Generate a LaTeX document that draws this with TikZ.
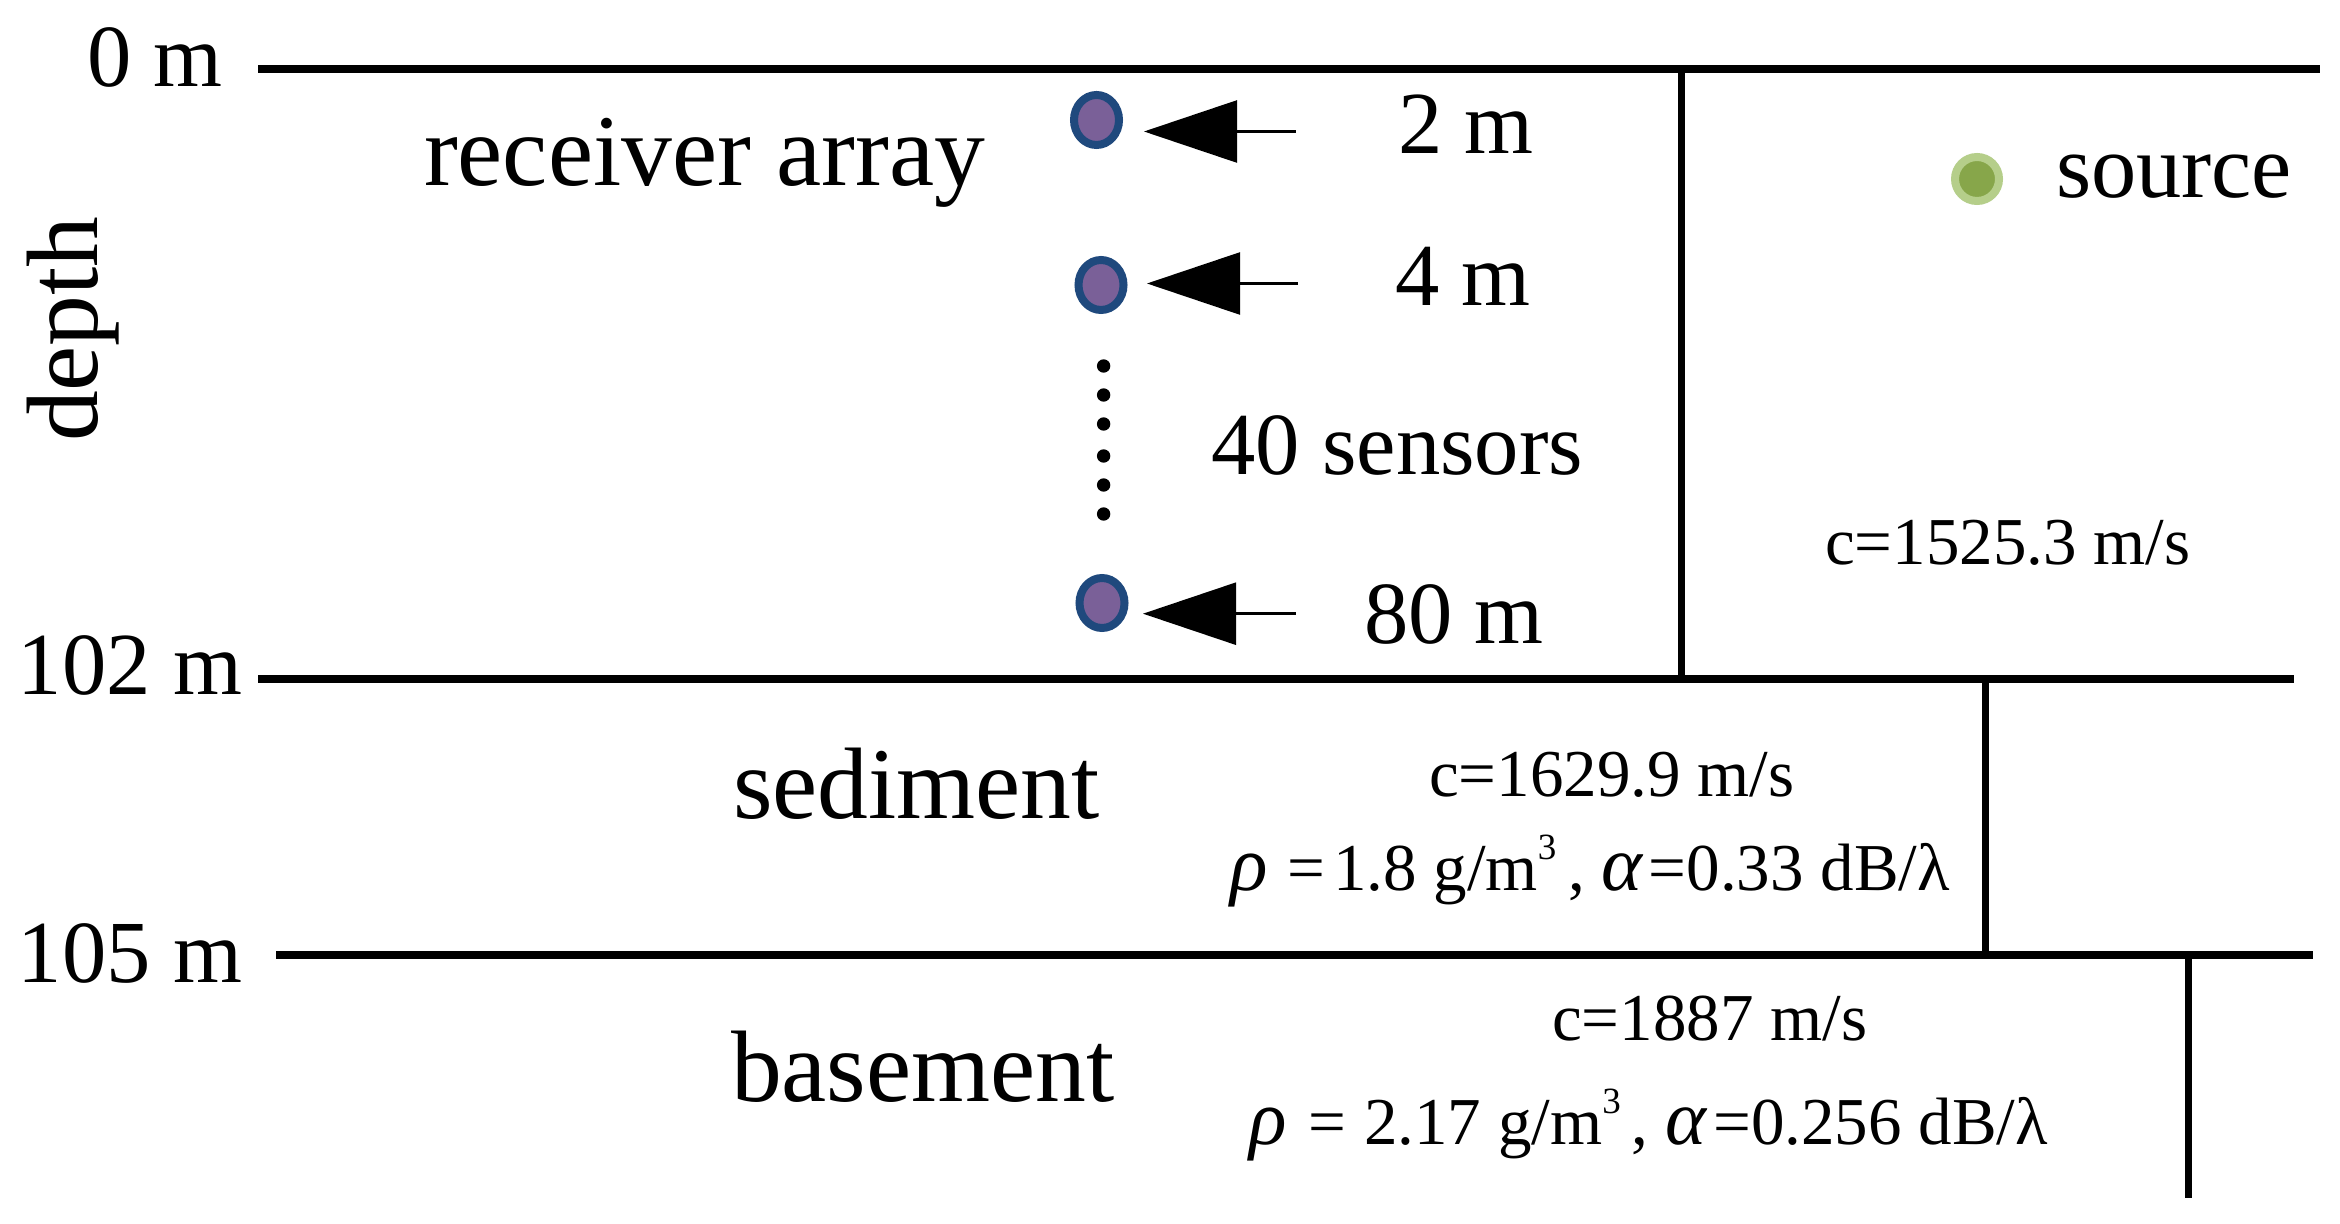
\documentclass[tikz,border=0pt]{standalone}
\usepackage{fontspec}
\setmainfont{Liberation Serif}
\usetikzlibrary{shapes.geometric,arrows.meta}
\newcommand{\fsz}[1]{\fontsize{#1}{#1}\selectfont}
\newcommand{\grk}[1]{{\fsz{39}\itshape #1}}
\newcommand{\supthree}{\raisebox{15.5pt}{\fsz{18.5}3}}
\tikzset{
  lab/.style={anchor=base west,inner sep=0pt,outer sep=0pt,text=black},
  big/.style={lab,font=\fsz{50.8}},
  mid/.style={lab,font=\fsz{44.3}},
  small/.style={lab,font=\fsz{33.5}},
  layer/.style={draw=black,line width=4pt},
  wall/.style={draw=black,line width=3.5pt},
  sensor/.style={ellipse,draw=sensorblue,fill=sensorpurple,line width=4pt,minimum width=22.5pt,minimum height=25pt,inner sep=0pt},
  sdot/.style={circle,fill=black,minimum size=6.7pt,inner sep=0pt},
  pointer/.style={draw=black,line width=1.25pt,-{Triangle[length=46.5pt,width=31pt,fill=black]}},
}
\definecolor{sensorblue}{HTML}{1F497D}
\definecolor{sensorpurple}{HTML}{7A6098}
\definecolor{srcouter}{HTML}{B5CE8A}
\definecolor{srcinner}{HTML}{87A64A}
\begin{document}
\begin{tikzpicture}[x=0.5pt,y=-0.5pt]
\useasboundingbox[fill=white] (0,0) rectangle (2340,1224);
% layer lines
\coordinate (t0) at (258,69);   \coordinate (t1) at (2320,69);
\coordinate (m0) at (258,678.5);  \coordinate (m1) at (2294,678.5);
\coordinate (b0) at (276,955);  \coordinate (b1) at (2313,955);
\draw[layer] (t0) -- (t1);
\draw[layer] (m0) -- (m1);
\draw[layer] (b0) -- (b1);
% vertical walls
\coordinate (w1a) at (1681,69);  \coordinate (w1b) at (1681,678);
\coordinate (w2a) at (1985,678); \coordinate (w2b) at (1985,955);
\coordinate (w3a) at (2188,955); \coordinate (w3b) at (2188,1198);
\draw[wall] (w1a) -- (w1b);
\draw[wall] (w2a) -- (w2b);
\draw[wall] (w3a) -- (w3b);
% sensors
\node[sensor] (s1) at (1096.5,120) {};
\node[sensor] (s2) at (1101,285) {};
\node[sensor] (s3) at (1102,603) {};
% dots
\foreach \i/\yy in {1/366,2/395,3/424,4/456,5/485,6/514}
  \node[sdot] (d\i) at (1103.6,\yy) {};
% pointers
\coordinate (p1a) at (1295.5,131.5); \coordinate (p1b) at (1144,131.5);
\coordinate (p2a) at (1298,283.5);   \coordinate (p2b) at (1147,283.5);
\coordinate (p3a) at (1295.5,613.7); \coordinate (p3b) at (1143,613.7);
\draw[pointer] (p1a) -- (p1b);
\draw[pointer] (p2a) -- (p2b);
\draw[pointer] (p3a) -- (p3b);
% source
\node[circle,draw=srcouter,fill=srcinner,line width=4pt,minimum size=22pt,inner sep=0pt] (src) at (1977,179) {};
% labels
\node[mid] (l0) at (87,86.5) {0 m};
\node[mid] (l102) at (18,694) {102 m};
\node[mid] (l105) at (18,982) {105 m};
\node[big,rotate=90] (ldepth) at (97,442) {depth};
\node[big] (lrec) at (424,186) {receiver array};
\node[mid] (l2) at (1398,154) {2 m};
\node[mid] (l4) at (1395,305.6) {4 m};
\node[mid] (l40) at (1211.5,475) {40 sensors};
\node[mid] (l80) at (1364,644) {80 m};
\node[lab,font=\fsz{45.2}] (lsrc) at (2056,198) {source};
\node[small] (c1) at (1825,565) {c=1525.3 m/s};
\node[big] (lsed) at (733,818) {sediment};
\node[small] (c2) at (1429,796) {c=1629.9 m/s};
\node[small] (r2) at (1230,890) {\grk{ρ}\hspace{10pt}=\hspace{4pt}1.8 g/m\supthree\hspace{6pt}, \grk{α}\hspace{3pt}=0.33 dB/λ};
\node[big] (lbas) at (731,1101) {basement};
\node[small] (c3) at (1552,1040) {c=1887 m/s};
\node[small] (r3) at (1249,1144) {\grk{ρ}\hspace{11pt}=\hspace{9pt}2.17 g/m\supthree\hspace{5.5pt}, \grk{α}\hspace{3.5pt}=0.256 dB/λ};
\end{tikzpicture}
\end{document}
